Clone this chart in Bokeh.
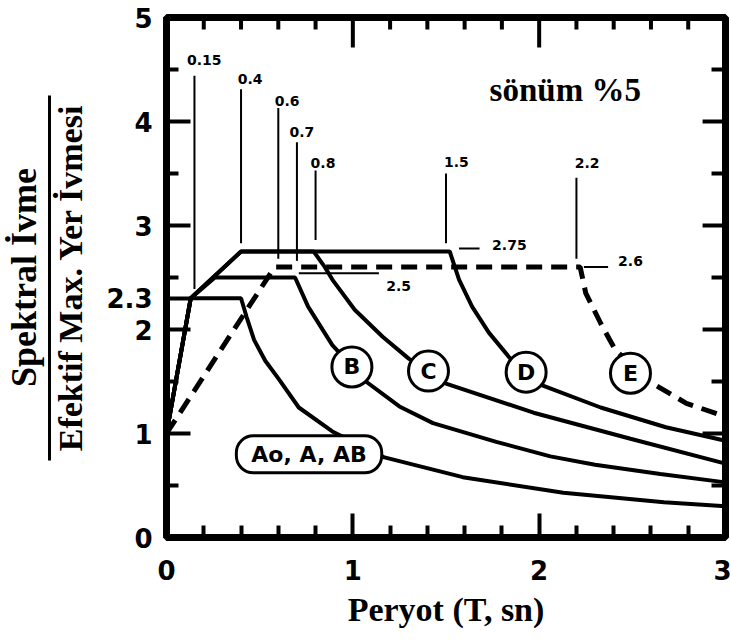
from bokeh.plotting import figure
from bokeh.models import LinearAxis, FixedTicker, Label, Range1d
from bokeh.core.properties import value
from bokeh.embed import file_html
from bokeh.resources import INLINE

# ---------------- data ----------------
ao_T = [0.0, 0.13, 0.40, 0.43, 0.47, 0.53, 0.60, 0.71, 0.89, 1.17, 1.59, 2.13, 2.67, 3.0]
ao_v = [1.0, 2.30, 2.30, 2.12, 1.90, 1.70, 1.53, 1.25, 1.02, 0.77, 0.58, 0.43, 0.34, 0.30]

b_T = [0.0, 0.13, 0.26, 0.69, 0.76, 0.89, 1.07, 1.25, 1.43, 1.77, 2.06, 2.30, 2.65, 3.0]
b_v = [1.0, 2.30, 2.50, 2.50, 2.22, 1.85, 1.50, 1.26, 1.10, 0.92, 0.78, 0.70, 0.61, 0.53]

c_T = [0.0, 0.13, 0.40, 0.79, 0.85, 0.89, 1.01, 1.16, 1.30, 1.50, 1.97, 2.49, 3.0]
c_v = [1.0, 2.30, 2.75, 2.75, 2.60, 2.48, 2.19, 1.93, 1.72, 1.48, 1.20, 0.95, 0.71]

d_T = [0.0, 0.13, 0.40, 1.52, 1.57, 1.64, 1.73, 1.85, 2.02, 2.33, 2.68, 3.0]
d_v = [1.0, 2.30, 2.75, 2.75, 2.48, 2.22, 1.97, 1.71, 1.46, 1.25, 1.06, 0.93]

e_T = [0.0, 0.58, 2.22, 2.25, 2.33, 2.41, 2.61, 2.79, 2.97]
e_v = [1.0, 2.60, 2.60, 2.35, 2.06, 1.80, 1.48, 1.29, 1.18]

soil_names = ["B", "C", "D", "E"]
corner_periods = ["0.15", "0.4", "0.6", "0.7", "0.8", "1.5", "2.2"]
plateau_values = ["2.75", "2.6", "2.5"]
x_ticks = [0.0, 1.0, 2.0, 3.0]
x_minor = [0.2, 0.4, 0.6, 0.8, 1.2, 1.4, 1.6, 1.8, 2.2, 2.4, 2.6, 2.8]
y_ticks = [0.0, 1.0, 2.0, 2.3, 3.0, 4.0, 5.0]
y_minor = [0.5, 1.5, 2.5, 3.5, 4.5]

# ---------------- figure ----------------
p = figure(width=731, height=642, x_range=Range1d(0, 3), y_range=Range1d(0, 5),
           output_backend="svg", toolbar_location=None,
           min_border_left=164, min_border_right=6, min_border_top=17, min_border_bottom=105)
p.xgrid.visible = False
p.ygrid.visible = False
p.outline_line_color = "black"
p.outline_line_width = 7
p.background_fill_color = "white"
p.border_fill_color = "white"

TICKF = "DejaVu Sans"
SERIF = "Liberation Serif"

def style_axis(ax, major, minor):
    ax.ticker = FixedTicker(ticks=major, minor_ticks=minor)
    ax.axis_line_color = "black"
    ax.axis_line_width = 7
    ax.major_tick_in = 24
    ax.major_tick_out = 0
    ax.minor_tick_in = 12
    ax.minor_tick_out = 0
    ax.major_tick_line_width = 4
    ax.minor_tick_line_width = 4
    ax.major_tick_line_color = "black"
    ax.minor_tick_line_color = "black"
    ax.major_label_text_font = TICKF
    ax.major_label_text_font_style = "bold"
    ax.major_label_text_font_size = "26px"
    ax.major_label_text_color = "black"

xa = p.xaxis[0]
style_axis(xa, x_ticks, x_minor)
xa.major_label_standoff = 22
xa.axis_label = "Peryot (T, sn)"
xa.axis_label_text_font = SERIF
xa.axis_label_text_font_style = "bold"
xa.axis_label_text_font_size = "34px"
xa.axis_label_text_color = "black"
xa.axis_label_standoff = 8

ya = p.yaxis[0]
style_axis(ya, y_ticks, y_minor)
ya.major_label_standoff = 14
ya.axis_label = "Efektif Max. Yer İvmesi"
ya.axis_label_text_font = SERIF
ya.axis_label_text_font_style = "bold"
ya.axis_label_text_font_size = "34px"
ya.axis_label_text_color = "black"
ya.axis_label_standoff = 14

# numerator of the y title, the fraction bar is this axis' own line
num = LinearAxis(bounds=(0.74, 4.25), ticker=FixedTicker(ticks=[], minor_ticks=[]))
num.axis_line_width = 3
num.axis_line_color = "black"
num.major_tick_in = 0
num.major_tick_out = 0
num.minor_tick_in = 0
num.minor_tick_out = 0
num.major_label_standoff = 0
num.axis_label = "Spektral İvme"
num.axis_label_text_font = SERIF
num.axis_label_text_font_style = "bold"
num.axis_label_text_font_size = "36px"
num.axis_label_text_color = "black"
num.axis_label_standoff = 6
p.add_layout(num, "left")

# inward ticks on the top and right edges of the frame
top_major_len = 0.288
top_minor_len = 0.115
right_major_len = 0.123
right_minor_len = 0.075
top_major = [1.0, 2.0]
right_major = [1.0, 2.0, 3.0, 4.0]
p.segment(x0=top_major, y0=[5.0] * len(top_major), x1=top_major,
          y1=[5.0 - top_major_len] * len(top_major), line_color="black", line_width=4)
p.segment(x0=x_minor, y0=[5.0] * len(x_minor), x1=x_minor,
          y1=[5.0 - top_minor_len] * len(x_minor), line_color="black", line_width=4)
p.segment(x0=[3.0] * len(right_major), y0=right_major, x1=[3.0 - right_major_len] * len(right_major),
          y1=right_major, line_color="black", line_width=4)
p.segment(x0=[3.0] * len(y_minor), y0=y_minor, x1=[3.0 - right_minor_len] * len(y_minor),
          y1=y_minor, line_color="black", line_width=4)

# ---------------- curves ----------------
LW = 4
p.line(ao_T, ao_v, line_color="black", line_width=LW)
p.line(b_T, b_v, line_color="black", line_width=LW)
p.line(c_T, c_v, line_color="black", line_width=LW)
p.line(d_T, d_v, line_color="black", line_width=LW)
p.line(e_T, e_v, line_color="black", line_width=5, line_dash="16 9")

# ---------------- leader lines and value labels ----------------
lead_x = [0.15, 0.40, 0.60, 0.70, 0.80, 1.50, 2.20]
lead_y0 = [2.39, 2.83, 2.68, 2.66, 2.86, 2.83, 2.68]
lead_y1 = [4.44, 4.31, 4.13, 3.80, 3.53, 3.50, 3.46]
p.segment(x0=lead_x, y0=lead_y0, x1=lead_x, y1=lead_y1, line_color="black", line_width=2)
p.segment(x0=[1.57, 2.24, 0.71], y0=[2.78, 2.60, 2.54], x1=[1.68, 2.37, 1.14], y1=[2.78, 2.60, 2.54],
          line_color="black", line_width=2)

p.text(x=[0.203, 0.449, 0.647, 0.727, 0.84, 1.556, 2.257],
       y=[4.59, 4.41, 4.20, 3.90, 3.60, 3.61, 3.60],
       text=corner_periods, text_font=value(TICKF), text_font_style="bold",
       text_font_size="14px", text_align="center", text_baseline="middle", text_color="black")
p.text(x=[1.84, 2.49, 1.246], y=[2.81, 2.66, 2.42], text=plateau_values,
       text_font=value(TICKF), text_font_style="bold", text_font_size="14px",
       text_align="center", text_baseline="middle", text_color="black")

p.text(x=[2.14], y=[4.30], text=["sönüm %5"], text_font=value(SERIF), text_font_style="bold",
       text_font_size="33px", text_align="center", text_baseline="middle", text_color="black")

# ---------------- soil class markers ----------------
circ_x = [0.995, 1.406, 1.93, 2.49]
circ_y = [1.64, 1.60, 1.59, 1.58]
p.scatter(circ_x, circ_y, size=40, marker="circle", fill_color="white", line_color="black", line_width=3)
p.text(x=circ_x, y=circ_y, text=soil_names, text_font=value(TICKF), text_font_style="bold",
       text_font_size="22px", text_align="center", text_baseline="middle", text_color="black")

p.add_layout(Label(x=0.765, y=0.80, text="Ao, A, AB", text_font=TICKF, text_font_style="bold",
                   text_font_size="22px", text_align="center", text_baseline="middle",
                   text_color="black", background_fill_color="white", border_line_color="black",
                   border_line_width=3, padding=dict(x=15, y=6), border_radius=17))

open("out.html", "w").write(file_html(p, INLINE))
